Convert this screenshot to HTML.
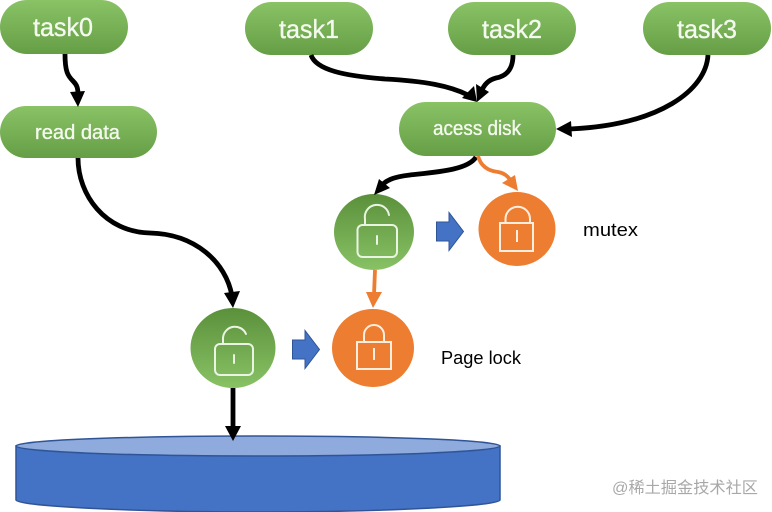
<!DOCTYPE html>
<html>
<head>
<meta charset="utf-8">
<style>
html,body{margin:0;padding:0;background:#fff}
svg{display:block}
text{font-family:"Liberation Sans","Noto Sans CJK SC",sans-serif}
.w{fill:#f4f9ef;stroke:#f4f9ef;stroke-width:.35}
</style>
</head>
<body>
<svg width="772" height="512" viewBox="0 0 772 512" xmlns="http://www.w3.org/2000/svg">
<defs>
<linearGradient id="g" x1="0" y1="0" x2="0" y2="1"><stop offset="0" stop-color="#8ac366"/><stop offset="1" stop-color="#659e45"/></linearGradient>
<linearGradient id="gc" x1="0" y1="0" x2="0" y2="1"><stop offset="0" stop-color="#5b903b"/><stop offset="1" stop-color="#88c265"/></linearGradient>
</defs>

<!-- Cylinder -->
<path d="M16 446 V500 C16 506 130 512 258 512 C386 512 500 506 500 500 V446 Z" fill="#4472c4" stroke="#2f5597" stroke-width="1.5"/>
<ellipse cx="258" cy="446" rx="242" ry="10" fill="#8faadc" stroke="#2f5597" stroke-width="1.5"/>

<!-- Pills -->
<rect x="0" y="0" width="128" height="54" rx="27" fill="url(#g)"/>
<rect x="245" y="2" width="128" height="53" rx="26.5" fill="url(#g)"/>
<rect x="448" y="2" width="128" height="53" rx="26.5" fill="url(#g)"/>
<rect x="643" y="2" width="128" height="53" rx="26.5" fill="url(#g)"/>
<rect x="0" y="106" width="157" height="52" rx="26" fill="url(#g)"/>
<rect x="399" y="102" width="157" height="54" rx="27" fill="url(#g)"/>

<text class="w" x="33" y="36" font-size="26" textLength="60" lengthAdjust="spacingAndGlyphs">task0</text>
<text class="w" x="279" y="38" font-size="26" textLength="60" lengthAdjust="spacingAndGlyphs">task1</text>
<text class="w" x="482" y="38" font-size="26" textLength="60" lengthAdjust="spacingAndGlyphs">task2</text>
<text class="w" x="677" y="38" font-size="26" textLength="60" lengthAdjust="spacingAndGlyphs">task3</text>
<text class="w" x="35" y="139" font-size="20" textLength="85" lengthAdjust="spacingAndGlyphs">read data</text>
<text class="w" x="433" y="135" font-size="20" textLength="88" lengthAdjust="spacingAndGlyphs">acess disk</text>

<!-- Circles -->
<ellipse cx="374" cy="232" rx="40" ry="38" fill="url(#gc)"/>
<ellipse cx="233" cy="348" rx="42.5" ry="40" fill="url(#gc)"/>
<ellipse cx="517" cy="229" rx="38.5" ry="37" fill="#ed7d31"/>
<ellipse cx="373" cy="348" rx="41" ry="39" fill="#ed7d31"/>

<!-- Locks -->
<g fill="none" stroke="#eaf4e2" stroke-width="2" stroke-linecap="round" stroke-linejoin="round">
<rect x="357.500" y="225" width="39.500" height="32" rx="5"/>
<path d="M365 225 V219 A12 12 0 0 1 389 215"/>
<path d="M377 236 V244"/>
<rect x="215" y="344" width="38" height="31" rx="5"/>
<path d="M223 344 V338 A12 12 0 0 1 246 334"/>
<path d="M234 355 V363"/>
</g>
<g fill="none" stroke="#fdeee0" stroke-width="2">
<rect x="500" y="223" width="33" height="28"/>
<path d="M505.500 223 V219 A12.250 12.250 0 0 1 530 219 V223"/>
<path d="M517 230 V242"/>
<rect x="357" y="342" width="34" height="27"/>
<path d="M364 342 V335 A10 10 0 0 1 384 335 V342"/>
<path d="M374 348 V360"/>
</g>

<!-- Blue arrows -->
<path d="M436.500 222 H449 V212.500 L463.500 231.500 L449 250.500 V241 H436.500 Z" fill="#4472c4" stroke="#2f5597" stroke-width="1"/>
<path d="M292.500 340 H305 V330.500 L319.500 349.500 L305 368.500 V359 H292.500 Z" fill="#4472c4" stroke="#2f5597" stroke-width="1"/>

<!-- Black connectors -->
<g fill="none" stroke="#000" stroke-width="4.800">
<path d="M65 54 C65 72 68 76 73 81 C77 85 78 88 78 95"/>
<path d="M78 158 C78 195 105 232 150 233 C195 234 226 262 232 296"/>
<path d="M311 55 C316 70 345 76 385 79 C425 81 450 86 468 95"/>
<path d="M513 55 C513 70 506 76 496 78 C488 80 484 85 481 92"/>
<path d="M708 55 C706 90 660 125 570 129"/>
<path d="M476 157 C468 170 437 172 410 175 C392 177 385 181 380 187"/>
<path d="M233 388 V428"/>
</g>
<g fill="#000">
<path d="M70 92 L85 91 L78 107 Z"/>
<path d="M224 293 L240 291 L233 308 Z"/>
<path d="M462 98 L474 86 L477 102 Z"/>
<path d="M489 92 L476 84 L477 102 Z"/>
<path d="M571 121 L572 137 L556 129 Z"/>
<path d="M379 179 L390 188 L374 195 Z"/>
<path d="M225 426 H241 L233 441 Z"/>
</g>

<!-- Orange connectors -->
<g fill="none" stroke="#ed7d31" stroke-width="3.800">
<path d="M478 156 C481 167 489 171 498 172 C505 173 509 177 512 183"/>
<path d="M375 270 L374 295"/>
</g>
<g fill="#ed7d31">
<path d="M502 183 L515 175 L518 191 Z"/>
<path d="M366 292 H382 L373 308 Z"/>
</g>

<!-- Labels -->
<text x="583" y="236" font-size="18.500" fill="#000" textLength="55" lengthAdjust="spacingAndGlyphs">mutex</text>
<text x="441" y="364" font-size="18.500" fill="#000" textLength="80" lengthAdjust="spacingAndGlyphs">Page lock</text>
<text x="612" y="493" font-size="16" fill="#a8a8a8" textLength="146" lengthAdjust="spacingAndGlyphs">@稀土掘金技术社区</text>
</svg>
</body>
</html>
